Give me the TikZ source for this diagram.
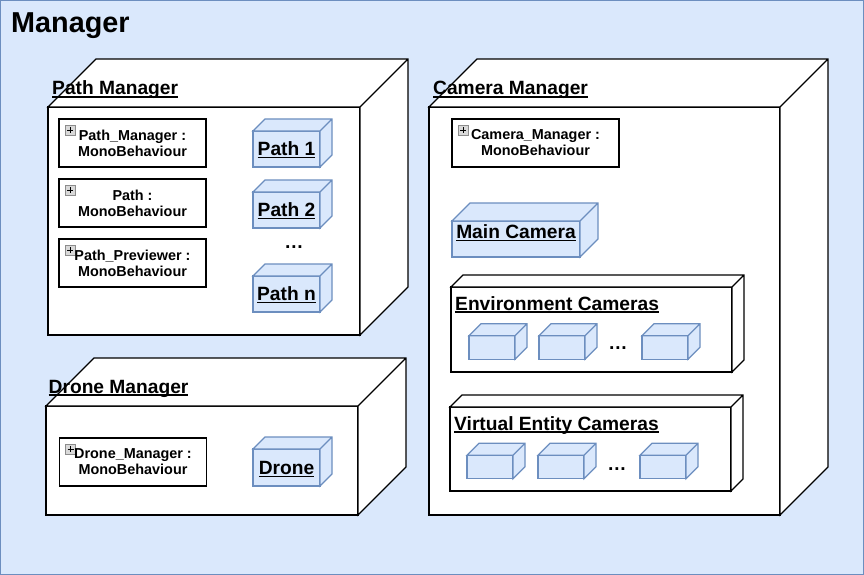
\documentclass[tikz,border=0pt]{standalone}
\usepackage{fontspec}
\setmainfont{Liberation Sans}
\usetikzlibrary{positioning}

\definecolor{bgblue}{HTML}{DAE8FC}
\definecolor{bgline}{HTML}{6C8EBF}

\newcommand{\bigfont}{\fontsize{28.8}{34}\selectfont\bfseries}
\newcommand{\headfont}{\fontsize{19.2}{23}\selectfont\bfseries}
\newcommand{\compfont}{\fontsize{14.4}{16}\selectfont\bfseries}
% underline just below the baseline
\newcommand{\ulabel}[1]{\setbox0=\hbox{#1}\rlap{\vrule height -1.2pt depth 2.6pt width \wd0}\box0}
% top and side face of a 3d node
\newcommand{\boxfaces}[3]{%
  \draw[#3] (#1.north west) -- ++(#2pt,#2pt) -- ([shift={(#2pt,#2pt)}]#1.north east)
    -- ([shift={(#2pt,#2pt)}]#1.south east) -- (#1.south east) -- (#1.north east) -- cycle
    (#1.north east) -- ++(#2pt,#2pt);}

\begin{document}
\begin{tikzpicture}
[x=1pt,y=-1pt,
 container/.style={shape=rectangle,draw,fill=white,line width=1.2pt,inner sep=0pt,outer sep=0pt,anchor=north west},
 comp/.style={shape=rectangle,draw,fill=white,line width=1.2pt,inner sep=0pt,outer sep=0pt,
   minimum width=147pt,minimum height=48pt,align=center,font=\compfont,
   path picture={
     \draw[fill=gray!30,draw=gray!90,line width=0.6pt] ([shift={(6pt,-6pt)}]path picture bounding box.north west) rectangle ++(10pt,-10pt);
     \draw[line width=0.8pt] ([shift={(11pt,-8pt)}]path picture bounding box.north west) -- ++(0pt,-6pt)
       ([shift={(8pt,-11pt)}]path picture bounding box.north west) -- ++(6pt,0pt);}},
 artifact/.style={shape=rectangle,draw=bgline,fill=bgblue,line width=1.2pt,inner sep=0pt,outer sep=0pt,
   font=\headfont,text height=13.7pt,text depth=0pt},
 pathbox/.style={artifact,minimum width=67pt,minimum height=36pt},
 smallbox/.style={artifact,minimum width=46pt,minimum height=23.5pt},
 heading/.style={anchor=base west,inner sep=0pt,font=\headfont},
 whiteface/.style={draw,fill=white,line width=1.2pt},
 blueface/.style={draw=bgline,fill=bgblue,line width=1.2pt}]

\useasboundingbox (0,0) rectangle (864,575);
\fill[bgblue] (0,0) rectangle (864,575);
\draw[bgline,line width=1.2pt] (0.6,0.6) rectangle (863.4,574.4);

\node (manager) [anchor=base west,inner sep=0pt,font=\bigfont] at (11,33) {Manager};

% path manager
\node[container,minimum width=312pt,minimum height=228pt] (pathmgr) at (48,107) {};
\boxfaces{pathmgr}{48}{whiteface}
\node[heading] (pathmgrlabel) at ([shift={(4pt,12pt)}]pathmgr.north west) {\ulabel{Path Manager}};
\node[comp] (pathmgrscript) at (132.5,143) {Path\_Manager :\\MonoBehaviour};
\node[comp] (pathscript) [below=12pt of pathmgrscript] {Path :\\MonoBehaviour};
\node[comp] (previewscript) [below=12pt of pathscript] {Path\_Previewer :\\MonoBehaviour};
\node[pathbox] (path1) at (286.5,149) {\ulabel{Path 1}};
\boxfaces{path1}{12}{blueface}
\node[pathbox] (path2) [below=25pt of path1] {\ulabel{Path 2}};
\boxfaces{path2}{12}{blueface}
\node (pathdots) [inner sep=0pt,font=\headfont] at (294,247) {…};
\node[pathbox] (pathn) [below=48pt of path2] {\ulabel{Path n}};
\boxfaces{pathn}{12}{blueface}

% drone manager
\node[container,minimum width=312pt,minimum height=109pt] (dronemgr) at (46,406) {};
\boxfaces{dronemgr}{48}{whiteface}
\node[heading] (dronemgrlabel) at ([shift={(2.5pt,13pt)}]dronemgr.north west) {\ulabel{Drone Manager}};
\node[comp] (dronescript) at (133,462) {Drone\_Manager :\\MonoBehaviour};
\node[pathbox,minimum height=37pt] (drone) at (286.5,467.5) {\ulabel{Drone}};
\boxfaces{drone}{12}{blueface}

% camera manager
\node[container,minimum width=351pt,minimum height=408pt] (cammgr) at (429,107) {};
\boxfaces{cammgr}{48}{whiteface}
\node[heading] (cammgrlabel) at ([shift={(4pt,12pt)}]cammgr.north west) {\ulabel{Camera Manager}};
\node[comp,minimum width=167pt] (camscript) at (535.5,143) {Camera\_Manager :\\MonoBehaviour};
\node[artifact,minimum width=128pt,minimum height=36pt,text depth=14pt] (maincam) at (516,239) {\ulabel{Main Camera}};
\boxfaces{maincam}{18}{blueface}

\node[container,minimum width=281pt,minimum height=85pt] (envcams) at (451,287) {};
\boxfaces{envcams}{12}{whiteface}
\node[heading] (envcamslabel) at ([shift={(4pt,-23pt)}]envcams.north west) {\ulabel{Environment Cameras}};
\node[smallbox] (env1) at (492,347.5) {};
\boxfaces{env1}{12}{blueface}
\node[smallbox] (env2) [right=24pt of env1] {};
\boxfaces{env2}{12}{blueface}
\node (envdots) [inner sep=0pt,font=\headfont] at (618,348) {…};
\node[smallbox] (env3) [right=57pt of env2] {};
\boxfaces{env3}{12}{blueface}

\node[container,minimum width=281pt,minimum height=84pt] (vircams) at (450,407) {};
\boxfaces{vircams}{12}{whiteface}
\node[heading] (vircamslabel) at ([shift={(4pt,-23pt)}]vircams.north west) {\ulabel{Virtual Entity Cameras}};
\node[smallbox] (vir1) at (490,467) {};
\boxfaces{vir1}{12}{blueface}
\node[smallbox] (vir2) [right=25pt of vir1] {};
\boxfaces{vir2}{12}{blueface}
\node (virdots) [inner sep=0pt,font=\headfont] at (617,469) {…};
\node[smallbox] (vir3) [right=56pt of vir2] {};
\boxfaces{vir3}{12}{blueface}
\end{tikzpicture}
\end{document}
